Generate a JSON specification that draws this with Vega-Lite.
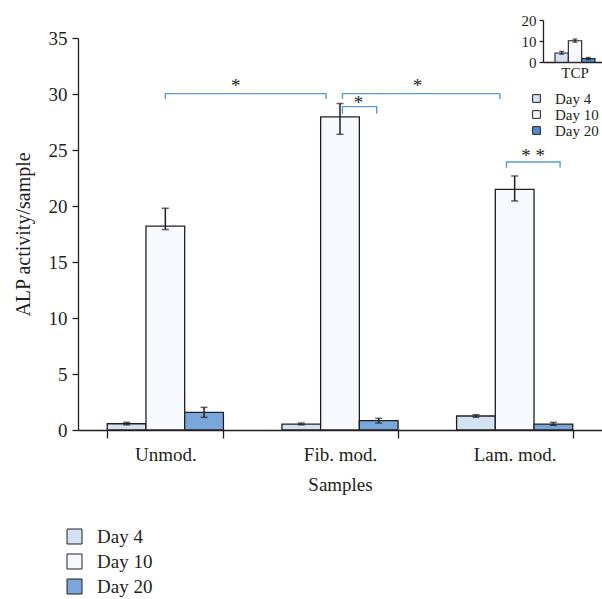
{
  "$schema": "https://vega.github.io/schema/vega-lite/v6.json",
  "autosize": "none",
  "padding": {"left": 78, "top": 38, "right": 0, "bottom": 169},
  "width": 524,
  "height": 392,
  "background": "white",
  "config": {
    "view": {"stroke": null},
    "font": "Liberation Serif",
    "axis": {
      "grid": false,
      "labelFont": "Liberation Serif",
      "titleFont": "Liberation Serif",
      "labelColor": "#231f20",
      "titleColor": "#231f20",
      "domainColor": "#231f20",
      "tickColor": "#231f20",
      "titleFontWeight": "normal",
      "domainWidth": 1.3,
      "tickWidth": 1.3
    },
    "legend": {
      "labelFont": "Liberation Serif",
      "labelColor": "#231f20",
      "title": null
    }
  },
  "datasets": {
    "main": [
      {"sample": "Unmod.", "day": "Day 4", "value": 0.56, "lo": 0.46, "hi": 0.68},
      {"sample": "Unmod.", "day": "Day 10", "value": 18.2, "lo": 17.9, "hi": 19.8},
      {"sample": "Unmod.", "day": "Day 20", "value": 1.57, "lo": 1.13, "hi": 2.02},
      {"sample": "Fib. mod.", "day": "Day 4", "value": 0.53, "lo": 0.46, "hi": 0.62},
      {"sample": "Fib. mod.", "day": "Day 10", "value": 27.95, "lo": 26.4, "hi": 29.15},
      {"sample": "Fib. mod.", "day": "Day 20", "value": 0.83, "lo": 0.62, "hi": 1.04},
      {"sample": "Lam. mod.", "day": "Day 4", "value": 1.25, "lo": 1.13, "hi": 1.37},
      {"sample": "Lam. mod.", "day": "Day 10", "value": 21.48, "lo": 20.45, "hi": 22.68},
      {"sample": "Lam. mod.", "day": "Day 20", "value": 0.53, "lo": 0.41, "hi": 0.68}
    ],
    "inset": [
      {"sample": "TCP", "day": "Day 4", "value": 4.4, "lo": 3.8, "hi": 5.2},
      {"sample": "TCP", "day": "Day 10", "value": 10.2, "lo": 9.5, "hi": 11.0},
      {"sample": "TCP", "day": "Day 20", "value": 1.8, "lo": 1.3, "hi": 2.3}
    ],
    "brackets": [
      {"id": "b1", "ord": 1, "x": 0.5, "y": 29.55},
      {"id": "b1", "ord": 2, "x": 0.5, "y": 30.03},
      {"id": "b1", "ord": 3, "x": 1.42, "y": 30.03},
      {"id": "b1", "ord": 4, "x": 1.42, "y": 29.55},
      {"id": "b2", "ord": 1, "x": 1.514, "y": 29.55},
      {"id": "b2", "ord": 2, "x": 1.514, "y": 30.03},
      {"id": "b2", "ord": 3, "x": 2.415, "y": 30.03},
      {"id": "b2", "ord": 4, "x": 2.415, "y": 29.55},
      {"id": "b3", "ord": 1, "x": 1.514, "y": 28.24},
      {"id": "b3", "ord": 2, "x": 1.514, "y": 28.87},
      {"id": "b3", "ord": 3, "x": 1.71, "y": 28.87},
      {"id": "b3", "ord": 4, "x": 1.71, "y": 28.24},
      {"id": "b4", "ord": 1, "x": 2.453, "y": 23.42},
      {"id": "b4", "ord": 2, "x": 2.453, "y": 23.93},
      {"id": "b4", "ord": 3, "x": 2.76, "y": 23.93},
      {"id": "b4", "ord": 4, "x": 2.76, "y": 23.42}
    ],
    "stars": [
      {"x": 0.903, "y": 31.2, "label": "*"},
      {"x": 1.943, "y": 31.2, "label": "*"},
      {"x": 1.606, "y": 29.6, "label": "*"},
      {"x": 2.606, "y": 24.9, "label": "* *"}
    ]
  },
  "layer": [
    {
      "data": {"name": "main"},
      "encoding": {
        "x": {
          "field": "sample", "type": "nominal", "sort": ["Unmod.", "Fib. mod.", "Lam. mod."],
          "scale": {"paddingInner": 0.335, "paddingOuter": 0.1675},
          "axis": {"title": "Samples", "labelAngle": 0, "labelFontSize": 19, "titleFontSize": 19, "tickBand": "extent", "tickSize": 8, "labelPadding": 7, "titlePadding": 11}
        },
        "xOffset": {"field": "day", "type": "nominal", "sort": ["Day 4", "Day 10", "Day 20"], "scale": {"paddingInner": 0, "paddingOuter": 0}}
      },
      "layer": [
        {
          "mark": {"type": "bar", "stroke": "#231f20", "strokeWidth": 1.3},
          "encoding": {
            "y": {"field": "value", "type": "quantitative", "scale": {"domain": [0, 35], "nice": false},
              "axis": {"title": "ALP activity/sample", "values": [0, 5, 10, 15, 20, 25, 30, 35], "labelFontSize": 19, "titleFontSize": 20, "tickSize": 6, "labelPadding": 5, "titlePadding": 15}},
            "color": {"field": "day", "type": "nominal", "sort": ["Day 4", "Day 10", "Day 20"],
              "scale": {"domain": ["Day 4", "Day 10", "Day 20"], "range": ["#d3e2f3", "#f6f9fd", "#7aa7db"]},
              "legend": {"orient": "none", "legendX": -13, "legendY": 489, "symbolType": "square", "symbolSize": 225, "symbolStrokeColor": "#231f20", "symbolStrokeWidth": 1, "symbolOpacity": 1, "labelFontSize": 19, "labelOffset": 13, "rowPadding": 5}}
          }
        },
        {
          "mark": {"type": "rule", "color": "#231f20", "strokeWidth": 1.5},
          "encoding": {"y": {"field": "lo", "type": "quantitative"}, "y2": {"field": "hi"}}
        },
        {
          "mark": {"type": "tick", "color": "#231f20", "thickness": 1.5, "size": 7},
          "encoding": {"y": {"field": "hi", "type": "quantitative"}}
        },
        {
          "mark": {"type": "tick", "color": "#231f20", "thickness": 1.5, "size": 7},
          "encoding": {"y": {"field": "lo", "type": "quantitative"}}
        }
      ]
    },
    {
      "encoding": {
        "x": {"field": "x", "type": "quantitative", "scale": {"domain": [0, 3], "nice": false, "zero": false}, "axis": null},
        "y": {"field": "y", "type": "quantitative", "scale": {"domain": [0, 35], "nice": false}, "axis": null}
      },
      "layer": [
        {
          "data": {"name": "brackets"},
          "mark": {"type": "line", "color": "#5b9bd5", "strokeWidth": 1.4},
          "encoding": {"detail": {"field": "id"}, "order": {"field": "ord", "type": "quantitative"}}
        },
        {
          "data": {"name": "stars"},
          "mark": {"type": "text", "fontSize": 19, "font": "Liberation Serif", "color": "#231f20", "baseline": "middle", "dy": 5},
          "encoding": {"text": {"field": "label"}}
        }
      ]
    },
    {
      "data": {"name": "inset"},
      "encoding": {
        "x": {
          "field": "sample", "type": "nominal",
          "scale": {"range": [465, 529], "paddingInner": 0.375, "paddingOuter": 0.1875},
          "axis": {"orient": "bottom", "offset": -368, "title": null, "labelAngle": 0, "labelFontSize": 15, "ticks": false, "labelPadding": 3}
        },
        "xOffset": {"field": "day", "type": "nominal", "sort": ["Day 4", "Day 10", "Day 20"], "scale": {"paddingInner": 0, "paddingOuter": 0}}
      },
      "layer": [
        {
          "mark": {"type": "bar", "stroke": "#231f20", "strokeWidth": 1.1},
          "encoding": {
            "y": {"field": "value", "type": "quantitative", "scale": {"domain": [0, 20], "nice": false, "range": [24.3, -18]},
              "axis": {"orient": "left", "offset": -465, "title": null, "values": [0, 10, 20], "labelFontSize": 15, "tickSize": 4, "labelPadding": 3}},
            "color": {"field": "day", "type": "nominal", "sort": ["Day 4", "Day 10", "Day 20"],
              "scale": {"domain": ["Day 4", "Day 10", "Day 20"], "range": ["#d3e2f3", "#f6f9fd", "#4f8ccf"]},
              "legend": {"orient": "none", "legendX": 451, "legendY": 53, "symbolType": "square", "symbolSize": 60, "symbolStrokeColor": "#231f20", "symbolStrokeWidth": 1, "symbolOpacity": 1, "labelFontSize": 15, "labelOffset": 11, "rowPadding": -1.5}}
          }
        },
        {
          "mark": {"type": "rule", "color": "#231f20", "strokeWidth": 1.3},
          "encoding": {"y": {"field": "lo", "type": "quantitative"}, "y2": {"field": "hi"}}
        },
        {
          "mark": {"type": "tick", "color": "#231f20", "thickness": 1.3, "size": 5},
          "encoding": {"y": {"field": "hi", "type": "quantitative"}}
        },
        {
          "mark": {"type": "tick", "color": "#231f20", "thickness": 1.3, "size": 5},
          "encoding": {"y": {"field": "lo", "type": "quantitative"}}
        }
      ]
    }
  ],
  "resolve": {
    "scale": {"x": "independent", "y": "independent", "color": "independent", "xOffset": "independent"}
  }
}
